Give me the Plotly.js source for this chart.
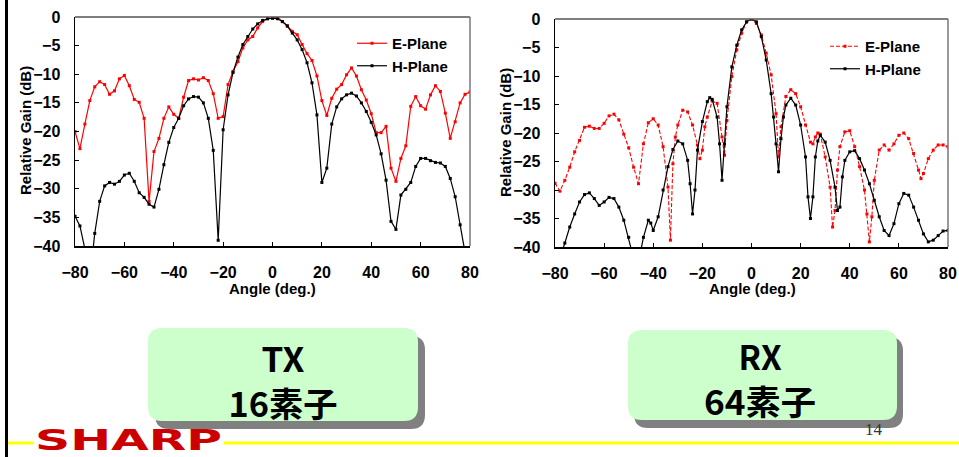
<!DOCTYPE html>
<html>
<head>
<meta charset="utf-8">
<script src="https://cdn.plot.ly/plotly-3.0.1.min.js"></script>
<style>
html,body{margin:0;padding:0;background:#fff;}
#chart{width:959px;height:457px;}
</style>
</head>
<body>
<div id="chart"></div>
<script>
// ---------- DATA ----------
// TX (16 elements) pattern, every 2 degrees
var txAngle = [-80,-78,-76,-74,-72,-70,-68,-66,-64,-62,-60,-58,-56,-54,-52,-50,-48,-46,-44,-42,-40,-38,-36,-34,-32,-30,-28,-26,-24,-22,-20,-18,-16,-14,-12,-10,-8,-6,-4,-2,0,2,4,6,8,10,12,14,16,18,20,22,24,26,28,30,32,34,36,38,40,42,44,46,48,50,52,54,56,58,60,62,64,66,68,70,72,74,76,78,80];
var txEPlane = [-20,-23,-18.7,-14.6,-12.2,-11.3,-11.8,-13.5,-12.9,-10.8,-10.2,-12,-14.4,-14.9,-17.7,-32.2,-23.5,-21.2,-17.7,-15.7,-17,-17.7,-14,-11.1,-10.8,-11,-10.6,-11.1,-13.4,-17.7,-17.4,-11.8,-9.5,-7.8,-5.4,-4,-3.4,-1.9,-0.8,-0.3,-0.2,0,-0.8,-1.5,-2.5,-3.1,-4.8,-6.4,-7.6,-10.3,-14.6,-17.2,-14.2,-12.6,-11.8,-10.1,-8.9,-10.3,-12.7,-14.5,-16.9,-20.2,-20.2,-19.1,-26.4,-28.7,-24.7,-22.5,-15.6,-13.9,-15.5,-16.1,-13.6,-12,-13,-16.8,-21.2,-18.3,-15,-13.5,-13.1];
var txHPlane = [-34.8,-36.5,-40.5,-46,-37.8,-32.2,-29.5,-28.9,-29.2,-28.7,-27.6,-27.3,-28.7,-30.7,-31.5,-32.7,-33.2,-30.1,-25.8,-21.9,-19.3,-17.7,-15.5,-14.3,-13.9,-14,-15,-17.7,-23.3,-39,-19.7,-13.6,-9.7,-7,-4.8,-3.4,-2.1,-1.2,-0.6,-0.3,-0.2,-0.3,-0.8,-1.6,-2.8,-4,-5.7,-8,-11.5,-17.1,-28.9,-26.4,-18.7,-15.7,-14.3,-13.6,-13.3,-13.8,-15,-16.5,-18.4,-20.6,-23.9,-28.5,-35.7,-37.1,-31.1,-30.1,-28.9,-26.1,-24.7,-24.7,-25.1,-25.4,-25.5,-26.1,-28.2,-31.4,-36.3,-42,-46];

// RX (64 elements) pattern
var rxEAngle = [-80,-78,-76,-74,-72,-70,-68,-66,-64,-62,-60,-58,-56,-54,-52,-50,-48,-46,-44,-42,-40,-38,-36,-34,-33,-32,-31,-30,-28,-26,-24,-22,-21,-20,-19,-18,-16,-14,-12,-11,-10,-8,-6,-4,-2,0,2,4,6,8,10,11,12,14,16,18,20,22,24,25,26,27,28,30,32,33,34,35,36,38,40,42,44,46,47,48,49,50,52,54,56,58,60,62,64,66,68,69,70,72,74,76,78,80];
var rxEPlane = [-28.8,-30.2,-28.3,-26,-23.3,-21.3,-19,-18.8,-19.2,-19.2,-18.3,-17,-16.7,-17.7,-20.2,-22.6,-26,-28.9,-21.9,-18.2,-17.5,-18.6,-22.4,-29.5,-38.8,-25.4,-20.7,-18.6,-16,-16.3,-18.6,-22.1,-24.5,-23,-18.9,-17.2,-14.4,-14.8,-20.7,-23.9,-17.8,-10.1,-5.4,-2.5,-0.5,0,-0.8,-2.8,-6,-9.8,-16.6,-24.2,-18.9,-13.6,-12.4,-13.1,-15.4,-18.6,-21.6,-21.9,-20.7,-20,-20.2,-24.2,-29.5,-36.5,-33.6,-26.5,-22.4,-19.8,-19.6,-22.4,-25.9,-30,-34.2,-39.1,-34.7,-28.3,-23,-22.1,-23,-21.9,-20.4,-20,-21,-23.6,-26.5,-28,-27.1,-24.5,-23,-22.1,-22.1,-22.4];
var rxHAngle = [-80,-78,-76,-74,-72,-70,-68,-66,-64,-62,-60,-58,-56,-54,-52,-50,-48,-46,-45,-44,-42,-41,-40,-38,-36,-34,-32,-30,-28,-26,-25,-24,-23,-22,-20,-18,-17,-16,-14,-13,-12,-11,-10,-8,-6,-4,-2,0,2,4,6,8,9,10,11,12,13,14,16,18,20,22,23,24,25,26,27,28,30,32,34,35,36,37,38,40,42,44,46,48,50,52,54,56,58,60,62,64,66,68,70,72,74,76,78,80];
var rxHPlane = [-41,-42,-39.3,-36.5,-34.2,-32.1,-30.8,-30.5,-31.5,-32.7,-32.1,-31.3,-31.5,-33,-35.3,-38.3,-42,-42,-40.5,-38.3,-35.3,-35.8,-37.1,-34.7,-30,-25.9,-22.9,-21.4,-21.9,-24.8,-28.9,-34.2,-30,-23,-18,-14.5,-13.8,-14.1,-17.2,-21.9,-28.3,-21.9,-15.4,-8.4,-4.6,-1.9,-0.5,0,-0.5,-3.1,-7.2,-13.1,-17.2,-21.9,-26.8,-21,-17.2,-15.1,-13.9,-15.1,-18.6,-24.2,-31.2,-35,-31.2,-24.2,-21.4,-20.4,-21.6,-24.8,-29.5,-33.6,-33,-27.7,-24.8,-23.3,-23.1,-24.5,-26.5,-28.9,-31.8,-34.7,-37.1,-38,-35.9,-32.4,-30.6,-30.9,-33,-35.3,-37.7,-39.1,-38.8,-38,-37.2,-37.1];

var xTicks = [-80,-60,-40,-20,0,20,40,60,80];
var yTicks = [0,-5,-10,-15,-20,-25,-30,-35,-40];
var seriesNames = ['E-Plane','H-Plane'];
var boxLabels = [['TX','16素子'],['RX','64素子']];
var logoText = 'SHARP';
var pageNumber = '14';

// ---------- LAYOUT HELPERS ----------
var W = 959, H = 457;
function px(v){return v/W;}
function py(v){return 1 - v/H;}
function roundRect(x0,y0,x1,y1,r){
  var rx = r/W, ry = r/H;
  var X0=px(x0), X1=px(x1), Y0=py(y0), Y1=py(y1);
  return 'M '+(X0+rx)+' '+Y0+' L '+(X1-rx)+' '+Y0+' Q '+X1+' '+Y0+' '+X1+' '+(Y0-ry)+
    ' L '+X1+' '+(Y1+ry)+' Q '+X1+' '+Y1+' '+(X1-rx)+' '+Y1+' L '+(X0+rx)+' '+Y1+
    ' Q '+X0+' '+Y1+' '+X0+' '+(Y1+ry)+' L '+X0+' '+(Y0-ry)+' Q '+X0+' '+Y0+' '+(X0+rx)+' '+Y0+' Z';
}

var FONT = 'Liberation Sans, Arial, sans-serif';
var tickFont = {family: FONT, size: 16, color: '#000', weight: 'bold'};

function xAxis(d0,d1,anchor){
  return {domain:[px(d0),px(d1)], anchor:anchor, range:[-80,80], tickvals:xTicks,
    ticks:'inside', ticklen:4, tickcolor:'#000', tickwidth:1, showline:true, linecolor:'#000', linewidth:1.5,
    showgrid:false, zeroline:false, tickfont:tickFont, ticklabelstandoff:11, fixedrange:true};
}
function yAxis(t,b,anchor){
  return {domain:[py(b),py(t)], anchor:anchor, range:[-40,0], tickvals:yTicks,
    ticks:'inside', ticklen:4, tickcolor:'#000', tickwidth:1, showline:true, linecolor:'#000', linewidth:1.5,
    showgrid:false, zeroline:false, tickfont:tickFont, ticklabelstandoff:10, fixedrange:true};
}

var traces = [
  {x:txAngle, y:txEPlane, name:seriesNames[0], xaxis:'x', yaxis:'y', mode:'lines+markers',
   line:{color:'#ff0000', width:1.2}, marker:{color:'#ff0000', size:3, symbol:'square'}, legend:'legend', legendgroup:'a'},
  {x:txAngle, y:txHPlane, name:seriesNames[1], xaxis:'x', yaxis:'y', mode:'lines+markers',
   line:{color:'#000000', width:1.2}, marker:{color:'#000000', size:3, symbol:'square'}, legend:'legend', legendgroup:'b'},
  {x:rxEAngle, y:rxEPlane, name:seriesNames[0], xaxis:'x2', yaxis:'y2', mode:'lines+markers',
   line:{color:'#ff0000', width:1.1, dash:'4px,2px'}, marker:{color:'#ff0000', size:3, symbol:'square'}, legend:'legend2', legendgroup:'c'},
  {x:rxHAngle, y:rxHPlane, name:seriesNames[1], xaxis:'x2', yaxis:'y2', mode:'lines+markers',
   line:{color:'#000000', width:1.2}, marker:{color:'#000000', size:3, symbol:'square'}, legend:'legend2', legendgroup:'d'}
];

function frame(xr,yr){
  return [
    {type:'line', xref:xr+' domain', yref:yr+' domain', x0:0, x1:1, y0:1, y1:1, line:{color:'#555', width:1.5}},
    {type:'line', xref:xr+' domain', yref:yr+' domain', x0:1, x1:1, y0:0, y1:1, line:{color:'#777', width:1.5}}
  ];
}

var shapes = [].concat(frame('x','y'), frame('x2','y2'), [
  {type:'line', xref:'paper', yref:'paper', x0:px(6.5), x1:px(6.5), y0:0, y1:1, line:{color:'#000', width:3}},
  {type:'line', xref:'paper', yref:'paper', x0:px(8), x1:px(33), y0:py(443), y1:py(443), line:{color:'#ffff00', width:3}},
  {type:'line', xref:'paper', yref:'paper', x0:px(224), x1:px(959), y0:py(443), y1:py(443), line:{color:'#ffff00', width:3}},
  {type:'path', xref:'paper', yref:'paper', path:roundRect(155,336,425,429,14), fillcolor:'#808080', line:{width:0}},
  {type:'path', xref:'paper', yref:'paper', path:roundRect(148,328,418,421,14), fillcolor:'#ccffcc', line:{width:0}},
  {type:'path', xref:'paper', yref:'paper', path:roundRect(634,337,903,428,14), fillcolor:'#808080', line:{width:0}},
  {type:'path', xref:'paper', yref:'paper', path:roundRect(628,330,897,420,14), fillcolor:'#ccffcc', line:{width:0}}
]);

var titleFont = {family: FONT, size: 15, color:'#000', weight:'bold'};
var boxFont = {family:'Noto Sans CJK JP, sans-serif', size:34, color:'#000', weight:'bold'};
var sharpFont = {family:'DejaVu Sans, sans-serif', size:29, color:'#cc0000', weight:'bold'};

function ann(text,x,y,font,extra){
  var a = {text:text, xref:'paper', yref:'paper', x:px(x), y:py(y), xanchor:'center', yanchor:'middle', showarrow:false, font:font};
  if(extra){for(var k in extra){a[k]=extra[k];}}
  return a;
}

var annotations = [
  ann('Relative Gain (dB)', 25, 131, titleFont, {textangle:-90}),
  ann('Angle (deg.)', 272, 288, titleFont),
  ann('Relative Gain (dB)', 505, 133, titleFont, {textangle:-90}),
  ann('Angle (deg.)', 752, 288, titleFont),
  ann(boxLabels[0][0], 283, 357, boxFont),
  ann(boxLabels[0][1], 283, 402, boxFont),
  ann(boxLabels[1][0], 760, 355, boxFont),
  ann(boxLabels[1][1], 760, 400, boxFont),
  ann(pageNumber, 874, 429, {family:'Liberation Serif, serif', size:17, color:'#333'}),
  ann(logoText, 128, 440, sharpFont)
];

// target rendered widths (px) for condensed / stretched lettering
var textWidths = {};
textWidths[logoText] = 187;
textWidths[boxLabels[0][0]] = 43;
textWidths[boxLabels[0][1]] = 109;
textWidths[boxLabels[1][0]] = 43;
textWidths[boxLabels[1][1]] = 112;

var legendFont = {family: FONT, size: 15, color:'#000', weight:'bold'};
var layout = {
  width: W, height: H,
  margin: {l:0, r:0, t:0, b:0},
  paper_bgcolor:'#ffffff', plot_bgcolor:'#ffffff',
  showlegend: true,
  xaxis: xAxis(75,470,'y'),
  yaxis: yAxis(17,246,'x'),
  xaxis2: xAxis(555,948,'y2'),
  yaxis2: yAxis(19,247,'x2'),
  legend: {x:px(352), y:py(27), xanchor:'left', yanchor:'top', bgcolor:'rgba(0,0,0,0)', borderwidth:0,
           font:legendFont, tracegroupgap:0, traceorder:'grouped', itemwidth:30},
  legend2: {x:px(825), y:py(30), xanchor:'left', yanchor:'top', bgcolor:'rgba(0,0,0,0)', borderwidth:0,
           font:legendFont, tracegroupgap:0, traceorder:'grouped', itemwidth:30},
  shapes: shapes,
  annotations: annotations
};

Plotly.newPlot('chart', traces, layout, {staticPlot:true, displayModeBar:false}).then(function(gd){
  var texts = gd.querySelectorAll('.annotation-text');
  for (var i = 0; i < texts.length; i++) {
    var w = textWidths[texts[i].textContent];
    if (w) {
      texts[i].setAttribute('textLength', String(w));
      texts[i].setAttribute('lengthAdjust', 'spacingAndGlyphs');
    }
  }
});
</script>
</body>
</html>
